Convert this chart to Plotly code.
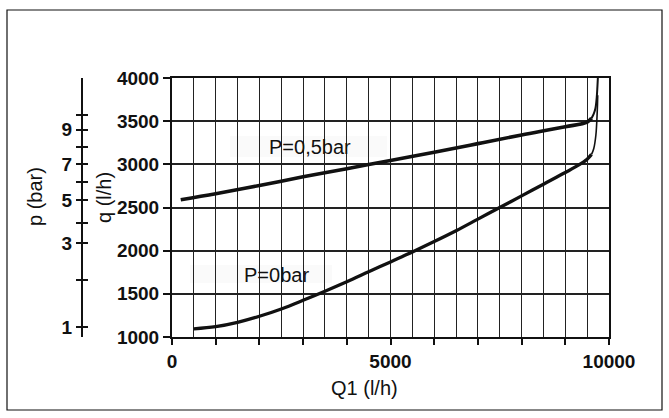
import plotly.graph_objects as go

# ---- data ----
q1_upper = [200, 1000, 2000, 3000, 4000, 5000, 6000, 7000, 8000, 9000, 9500, 9600, 9650, 9690, 9720, 9735, 9745]
q_upper = [2590, 2660, 2755, 2855, 2950, 3045, 3140, 3240, 3340, 3435, 3490, 3535, 3585, 3650, 3780, 3900, 4000]

q1_lower = [500, 1000, 1500, 2000, 2500, 3000, 3500, 4000, 4500, 5000, 5500, 6000, 6500, 7000, 7500, 8000,
            8500, 9000, 9300, 9500, 9600, 9650, 9700, 9730, 9742]
q_lower = [1095, 1120, 1170, 1240, 1325, 1425, 1530, 1640, 1755, 1870, 1985, 2105, 2230, 2365, 2500, 2635,
           2770, 2905, 2990, 3060, 3115, 3180, 3340, 3600, 3800]

x_tick_vals = [0, 1000, 2000, 3000, 4000, 5000, 6000, 7000, 8000, 9000, 10000]
x_tick_text = ["0", "", "", "", "", "5000", "", "", "", "", "10000"]
y_tick_vals = [1000, 1500, 2000, 2500, 3000, 3500, 4000]

# secondary pressure scale: p value -> equivalent q position
p_ticks = [1, 2, 3, 4, 5, 6, 7, 8, 9, 10]
p_tick_q = [1116, 1666, 2084, 2324, 2587, 2800, 3002, 3199, 3400, 3574]
p_tick_text = ["1", "", "3", "", "5", "", "7", "", "9", ""]

label_upper = "P=0,5bar"
label_lower = "P=0bar"

# ---- layout geometry (pixels) ----
W, H = 669, 418
ML, MR, MT, MB = 60, 60, 78, 81
PW = W - ML - MR
PH = H - MT - MB
def px_x(p):
    return (p - ML) / PW
def px_y(p):
    return (H - MB - p) / PH

INK = "#111111"
GRID = "#222222"
FONT = "Liberation Sans, Arial, sans-serif"

split_u = q1_upper.index(9600)
split_l = q1_lower.index(9600)

fig = go.Figure()
fig.add_trace(go.Scatter(x=q1_upper[:split_u + 1], y=q_upper[:split_u + 1], mode="lines",
                         line=dict(color=INK, width=3.6, shape="spline"), showlegend=False, hoverinfo="skip"))
fig.add_trace(go.Scatter(x=q1_upper[split_u:], y=q_upper[split_u:], mode="lines",
                         line=dict(color=INK, width=2, shape="spline"), showlegend=False, hoverinfo="skip"))
fig.add_trace(go.Scatter(x=q1_lower[:split_l + 1], y=q_lower[:split_l + 1], mode="lines",
                         line=dict(color=INK, width=3.3, shape="spline"), showlegend=False, hoverinfo="skip"))
fig.add_trace(go.Scatter(x=q1_lower[split_l:], y=q_lower[split_l:], mode="lines",
                         line=dict(color=INK, width=1.6, shape="spline"), showlegend=False, hoverinfo="skip"))
# carriers for the pressure scale axes
fig.add_trace(go.Scatter(x=[], y=[], yaxis="y3", showlegend=False))
fig.add_trace(go.Scatter(x=[], y=[], yaxis="y4", showlegend=False))

x0 = px_x(172)
fig.update_layout(
    width=W, height=H,
    margin=dict(l=ML, r=MR, t=MT, b=MB),
    paper_bgcolor="white", plot_bgcolor="white",
    font=dict(family=FONT, color=INK),
    xaxis=dict(domain=[x0, 1.0], range=[0, 10000], tickmode="array", tickvals=x_tick_vals,
               ticktext=x_tick_text, ticks="outside", ticklen=6, tickwidth=1.5, tickcolor=INK,
               ticklabelstandoff=0,
               showgrid=True, gridcolor=GRID, gridwidth=1.3,
               minor=dict(tick0=0, dtick=500, showgrid=True, gridcolor=GRID, gridwidth=1.3, ticks=""),
               showline=True, linecolor=INK, linewidth=2, mirror=True, zeroline=False,
               tickfont=dict(size=19, family=FONT, color=INK, weight="bold")),
    yaxis=dict(range=[1000, 4000], tickmode="array", tickvals=y_tick_vals,
               ticks="outside", ticklen=7, tickwidth=1.5, tickcolor=INK,
               showgrid=True, gridcolor=GRID, gridwidth=2,
               showline=True, linecolor=INK, linewidth=2, mirror=True, zeroline=False,
               tickfont=dict(size=19, family=FONT, color=INK, weight="bold")),
    yaxis3=dict(overlaying="y", anchor="free", position=px_x(81.7), side="left",
                range=[1000, 4000], tickmode="array", tickvals=p_tick_q, ticktext=p_tick_text,
                ticks="outside", ticklen=5, tickwidth=1.5, tickcolor=INK,
                showline=True, linecolor=INK, linewidth=1.5, showgrid=False, zeroline=False,
                tickfont=dict(size=19, family=FONT, color=INK, weight="bold")),
    yaxis4=dict(overlaying="y", anchor="free", position=px_x(81.7), side="left",
                range=[1000, 4000], tickmode="array", tickvals=p_tick_q,
                ticks="inside", ticklen=5, tickwidth=1.5, tickcolor=INK, showticklabels=False,
                showline=False, showgrid=False, zeroline=False),
)

# label backgrounds (between grid and curves)
fig.add_shape(type="rect", xref="paper", yref="paper", layer="between",
              x0=px_x(230), x1=px_x(387), y0=px_y(157), y1=px_y(136),
              fillcolor="#fafafa", line=dict(width=0))
fig.add_shape(type="rect", xref="paper", yref="paper", layer="between",
              x0=px_x(190), x1=px_x(332), y0=px_y(283), y1=px_y(265),
              fillcolor="#fafafa", line=dict(width=0))
# outer frame
fig.add_shape(type="rect", xref="paper", yref="paper", layer="above",
              x0=px_x(7), x1=px_x(662), y0=px_y(410), y1=px_y(10),
              line=dict(color=INK, width=1.2), fillcolor="rgba(0,0,0,0)")

ann_font = dict(size=20, family=FONT, color=INK)
fig.add_annotation(text=label_upper, xref="paper", yref="paper", x=px_x(310), y=px_y(147),
                   showarrow=False, font=ann_font, xanchor="center", yanchor="middle")
fig.add_annotation(text=label_lower, xref="paper", yref="paper", x=px_x(276), y=px_y(275),
                   showarrow=False, font=ann_font, xanchor="center", yanchor="middle")
fig.add_annotation(text="Q1 (l/h)", xref="paper", yref="paper", x=px_x(364), y=px_y(388),
                   showarrow=False, font=ann_font, xanchor="center", yanchor="middle")
fig.add_annotation(text="q (l/h)", xref="paper", yref="paper", x=px_x(104), y=px_y(198),
                   showarrow=False, font=ann_font, textangle=-90, xanchor="center", yanchor="middle")
fig.add_annotation(text="p (bar)", xref="paper", yref="paper", x=px_x(35), y=px_y(197),
                   showarrow=False, font=ann_font, textangle=-90, xanchor="center", yanchor="middle")

fig.write_html("out.html", config={"displayModeBar": False},
               post_script="document.body.style.margin='0';")
